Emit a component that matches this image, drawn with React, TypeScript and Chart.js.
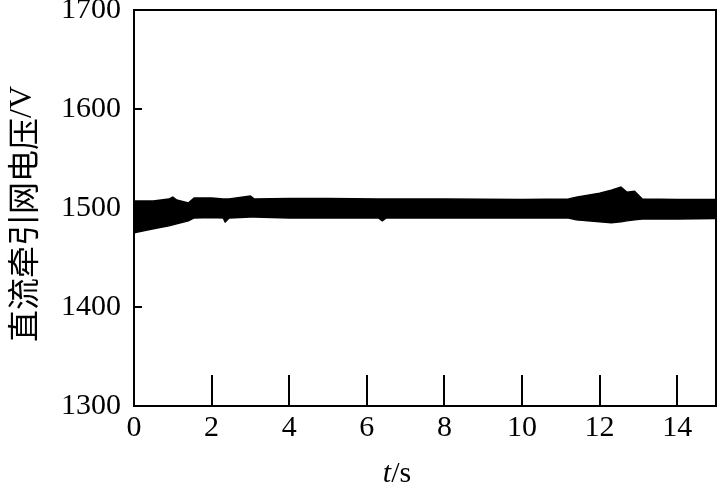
import React, { useEffect, useRef } from "react";
import { Chart, registerables } from "chart.js";

Chart.register(...registerables);

// Envelope of the voltage band (time in s, voltage in V)
const times = [0, 0.5, 0.9, 1.0, 1.1, 1.4, 1.55, 2.0, 2.3, 2.35, 2.45, 3.0, 3.1, 4, 5, 6.3, 6.4, 6.5, 8, 10, 11.2, 11.4, 12, 12.3, 12.55, 12.7, 12.9, 13.1, 14, 15];
const upper = [1507, 1507, 1509, 1511, 1508, 1505, 1510, 1510, 1509, 1509, 1509, 1512, 1509, 1509.5, 1509.5, 1509, 1509, 1509, 1509, 1508.5, 1509, 1511, 1515, 1518, 1521, 1516, 1517, 1509, 1508.5, 1508.5];
const lower = [1475, 1479, 1482, 1483, 1484, 1487, 1490, 1490.5, 1490, 1486, 1490, 1491, 1491, 1490, 1490, 1490, 1487, 1490, 1490, 1490, 1490, 1488, 1486, 1485, 1486, 1487, 1488, 1489, 1489, 1489.5];

const xLabels = [0, 2, 4, 6, 8, 10, 12, 14];
const xTicks = [2, 4, 6, 8, 10, 12, 14];
const yTicks = [1400, 1500, 1600];
const yTitleCJK = "直流牵引网电压";
const yTitleUnit = "/V";
const xTitleVar = "t";
const xTitleUnit = "/s";

const SERIF = "'Liberation Serif', 'DejaVu Serif', serif";
const CJK = "'Noto Sans CJK SC', sans-serif";

const decorPlugin = {
  id: "decor",
  afterDraw(chart: any) {
    const { ctx, chartArea } = chart;
    const { left, right, top, bottom } = chartArea;
    const xs = chart.scales.x;
    const ys = chart.scales.y;
    ctx.save();
    ctx.strokeStyle = "#000";
    ctx.lineWidth = 2;
    ctx.beginPath();
    ctx.rect(left, top, right - left, bottom - top);
    ctx.stroke();
    ctx.beginPath();
    for (const t of xTicks) {
      const px = Math.round(xs.getPixelForValue(t));
      ctx.moveTo(px, bottom);
      ctx.lineTo(px, bottom - 31);
    }
    for (const v of yTicks) {
      const py = Math.round(ys.getPixelForValue(v));
      ctx.moveTo(left, py);
      ctx.lineTo(left + 8, py);
    }
    ctx.stroke();

    // y title
    ctx.fillStyle = "#000";
    ctx.save();
    ctx.translate(22, 214);
    ctx.rotate(-Math.PI / 2);
    ctx.textBaseline = "middle";
    ctx.textAlign = "left";
    ctx.font = `32px ${CJK}`;
    const w1 = ctx.measureText(yTitleCJK).width;
    ctx.font = `32px ${SERIF}`;
    const w2 = ctx.measureText(yTitleUnit).width;
    const start = -(w1 + w2) / 2;
    ctx.font = `32px ${CJK}`;
    ctx.fillText(yTitleCJK, start, 1);
    ctx.font = `32px ${SERIF}`;
    ctx.fillText(yTitleUnit, start + w1, 1);
    ctx.restore();

    // x title
    ctx.textBaseline = "alphabetic";
    ctx.textAlign = "left";
    ctx.font = `italic 30px ${SERIF}`;
    const wt = ctx.measureText(xTitleVar).width;
    ctx.font = `30px ${SERIF}`;
    const ws = ctx.measureText(xTitleUnit).width;
    const sx = 397 - (wt + ws) / 2;
    ctx.font = `italic 30px ${SERIF}`;
    ctx.fillText(xTitleVar, sx, 482);
    ctx.font = `30px ${SERIF}`;
    ctx.fillText(xTitleUnit, sx + wt, 482);
    ctx.restore();
  },
};

export default function App() {
  const ref = useRef<HTMLCanvasElement>(null);
  useEffect(() => {
    if (!ref.current) return;
    const upperPts = times.map((t, i) => ({ x: t, y: upper[i] }));
    const lowerPts = times.map((t, i) => ({ x: t, y: lower[i] }));
    const chart = new Chart(ref.current, {
      type: "line",
      data: {
        datasets: [
          {
            data: lowerPts,
            borderColor: "#000",
            borderWidth: 1.5,
            pointRadius: 0,
            fill: false,
            tension: 0,
          },
          {
            data: upperPts,
            borderColor: "#000",
            borderWidth: 1.5,
            backgroundColor: "#000",
            pointRadius: 0,
            fill: "-1",
            tension: 0,
          },
        ],
      },
      options: {
        responsive: false,
        animation: false,
        layout: { padding: { left: 0, top: 10, right: 7, bottom: 0 } },
        plugins: { legend: { display: false }, tooltip: { enabled: false } },
        scales: {
          x: {
            type: "linear",
            min: 0,
            max: 15,
            grid: { display: false, drawTicks: false },
            border: { display: false },
            afterBuildTicks: (s: any) => {
              s.ticks = xLabels.map((v) => ({ value: v }));
            },
            ticks: {
              color: "#000",
              font: { family: SERIF, size: 30 },
              padding: 4,
              maxRotation: 0,
              autoSkip: false,
              callback: (v: any) => String(v),
            },
            afterFit: (s: any) => {
              s.height = 79;
              s.paddingLeft = 0;
              s.paddingRight = 0;
            },
          },
          y: {
            min: 1300,
            max: 1700,
            grid: { display: false, drawTicks: false },
            border: { display: false },
            ticks: {
              stepSize: 100,
              color: "#000",
              font: { family: SERIF, size: 30 },
              padding: 13,
              callback: (v: any) => String(v),
            },
            afterFit: (s: any) => {
              s.width = 134;
              s.paddingTop = 0;
              s.paddingBottom = 0;
            },
          },
        },
      },
      plugins: [decorPlugin],
    });
    return () => chart.destroy();
  }, []);
  return (
    <div style={{ position: "fixed", left: 0, top: 0, width: 723, height: 485, background: "#fff" }}>
      <canvas ref={ref} width={723} height={485} style={{ display: "block" }} />
    </div>
  );
}
